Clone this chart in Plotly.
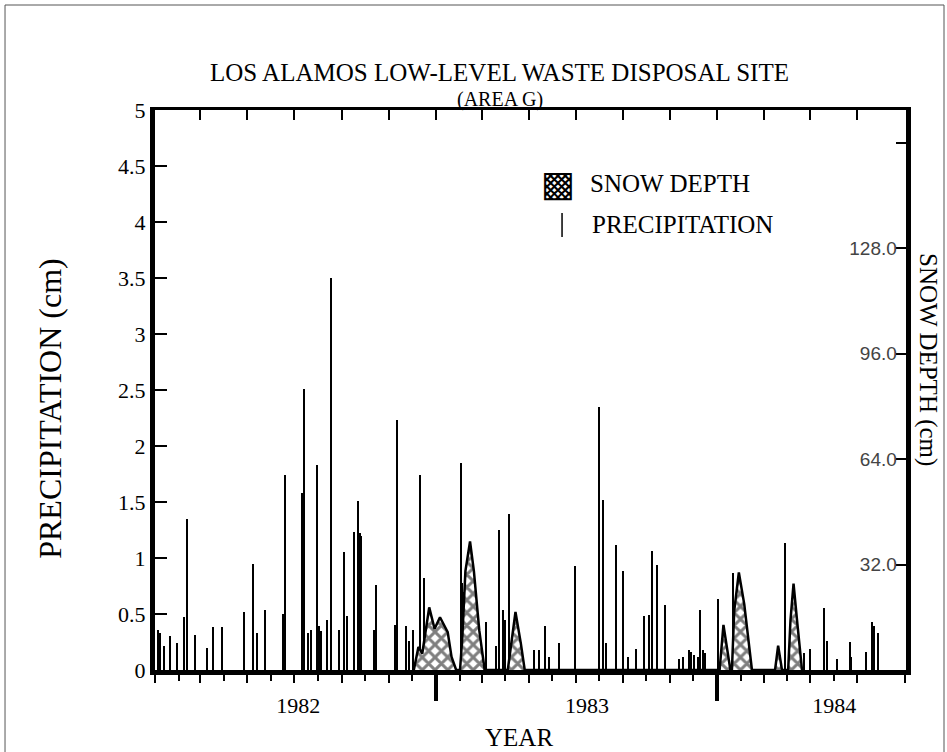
import plotly.graph_objects as go

# ---------------- data ----------------
precip_dates = [
    "1982-01-05", "1982-01-07", "1982-01-13", "1982-01-20", "1982-01-30", "1982-02-08", "1982-02-12",
    "1982-02-22", "1982-03-10", "1982-03-18", "1982-03-29", "1982-04-27", "1982-05-08", "1982-05-13",
    "1982-05-24", "1982-06-16", "1982-06-19", "1982-07-11", "1982-07-14", "1982-07-19", "1982-07-22",
    "1982-07-31", "1982-08-02", "1982-08-05", "1982-08-12", "1982-08-17", "1982-08-18", "1982-08-28",
    "1982-09-03", "1982-09-08", "1982-09-16", "1982-09-21", "1982-09-24", "1982-09-26", "1982-10-12",
    "1982-10-15", "1982-11-09", "1982-11-11", "1982-11-23", "1982-11-27", "1982-12-02", "1982-12-11",
    "1982-12-16",
    "1983-02-02", "1983-02-04", "1983-02-06", "1983-03-07", "1983-03-20", "1983-03-24", "1983-03-29",
    "1983-04-01", "1983-04-06", "1983-04-09", "1983-05-08", "1983-05-15", "1983-05-22", "1983-05-27",
    "1983-06-09", "1983-07-01", "1983-08-01", "1983-08-06", "1983-08-10", "1983-08-23", "1983-09-01",
    "1983-09-07", "1983-09-17", "1983-09-28", "1983-10-05", "1983-10-08", "1983-10-15", "1983-10-25",
    "1983-11-13", "1983-11-18", "1983-11-26", "1983-11-28", "1983-12-02", "1983-12-07", "1983-12-10",
    "1983-12-13", "1983-12-16",
    "1984-01-02", "1984-01-21", "1984-03-29", "1984-04-23", "1984-04-30", "1984-05-19", "1984-05-22",
    "1984-06-04", "1984-06-21", "1984-06-23", "1984-07-12", "1984-07-20", "1984-07-23", "1984-07-28",
]
precip_cm = [
    0.36, 0.33, 0.21, 0.30, 0.24, 0.47, 1.35, 0.31, 0.20, 0.38, 0.38, 0.52, 0.95, 0.33,
    0.54, 0.50, 1.74, 1.58, 2.51, 0.33, 0.36, 1.83, 0.39, 0.35, 0.45, 0.31, 3.50, 0.36,
    1.05, 0.48, 1.23, 1.51, 1.22, 1.20, 0.36, 0.76, 0.40, 2.23, 0.39, 0.26, 0.36, 1.74,
    0.82,
    1.85, 0.78, 0.70, 0.43, 0.21, 1.25, 0.54, 0.45, 1.39, 0.27, 0.18, 0.18, 0.39, 0.12,
    0.24, 0.93, 2.35, 1.52, 0.24, 1.12, 0.88, 0.12, 0.19, 0.48, 0.49, 1.06, 0.94, 0.58,
    0.10, 0.12, 0.18, 0.16, 0.13, 0.12, 0.54, 0.18, 0.15,
    0.63, 0.87, 1.13, 0.15, 0.19, 0.55, 0.26, 0.10, 0.25, 0.12, 0.16, 0.43, 0.39, 0.33,
]

snow_dates = [
    "1982-12-03", "1982-12-09", "1982-12-14", "1982-12-23", "1982-12-30", "1983-01-06", "1983-01-16",
    "1983-01-21", "1983-01-27",
    "1983-02-01", "1983-02-04", "1983-02-08", "1983-02-14", "1983-02-19", "1983-02-26", "1983-03-05",
    "1983-04-04", "1983-04-10", "1983-04-14", "1983-04-21", "1983-04-26",
    "1984-01-04", "1984-01-09", "1984-01-18",
    "1984-01-20", "1984-01-23", "1984-01-29", "1984-02-05", "1984-02-10", "1984-02-15",
    "1984-03-16", "1984-03-20", "1984-03-25",
    "1984-04-02", "1984-04-05", "1984-04-09", "1984-04-14", "1984-04-20",
]
snow_depth_cm = [
    0, 7, 5, 19, 12.5, 16, 11.5, 4, 0,
    0, 10, 30, 39, 30, 12, 0,
    0, 10, 17.6, 8, 0,
    0, 13.7, 0,
    0, 18, 29.6, 20, 10, 0,
    0, 7.4, 0,
    0, 15, 26.2, 14, 0,
]

x_range = ["1982-01-01", "1984-09-02"]
year_boundaries = ["1983-01-01", "1984-01-01"]
year_labels = ["1982", "1983", "1984"]
year_label_dates = ["1982-07-06", "1983-07-16", "1984-06-01"]
snow_tickvals = [32, 64, 96, 128, 160]
snow_ticktext = ["32.0", "64.0", "96.0", "128.0", ""]

SERIF = "Liberation Serif"
DAY_MS = 86400000

fig = go.Figure()

fig.add_trace(go.Bar(
    x=precip_dates, y=precip_cm, width=1.5 * DAY_MS,
    marker=dict(color="black", line=dict(width=0)),
    showlegend=False, xaxis="x", yaxis="y",
))

fig.add_trace(go.Scatter(
    x=snow_dates, y=snow_depth_cm, mode="lines",
    line=dict(color="black", width=2.5),
    fill="tozeroy",
    fillpattern=dict(shape="x", fgcolor="black", bgcolor="white", size=9, solidity=0.55),
    fillcolor="white",
    showlegend=False, xaxis="x", yaxis="y2",
))

# invisible helpers so overlay axes are drawn
for ax in ["x2", "x3", "x4"]:
    fig.add_trace(go.Scatter(x=[x_range[0]], y=[0], mode="markers", marker=dict(opacity=0),
                             hoverinfo="skip", showlegend=False, xaxis=ax, yaxis="y"))

fig.update_layout(
    width=947, height=752,
    margin=dict(l=155, r=41, t=110, b=82),
    paper_bgcolor="white", plot_bgcolor="white",
    bargap=0, showlegend=False,
    font=dict(family=SERIF, color="black"),
    xaxis=dict(
        type="date", range=x_range, showgrid=False, zeroline=False,
        showline=True, linewidth=5, linecolor="black",
        tickmode="array", tickvals=year_label_dates, ticktext=year_labels,
        ticks="", ticklen=0,
        tickfont=dict(family=SERIF, size=22), ticklabelstandoff=12,
        minor=dict(ticks="outside", tickmode="linear", dtick="M1", tick0="1982-01-01",
                   ticklen=6, tickwidth=1.5, tickcolor="black", showgrid=False),
    ),
    xaxis2=dict(
        type="date", range=x_range, overlaying="x", anchor="y", side="bottom",
        showgrid=False, zeroline=False, showline=False, showticklabels=False,
        tickmode="linear", dtick="M2", tick0="1982-01-01",
        ticks="outside", ticklen=12, tickwidth=1.8, tickcolor="black",
    ),
    xaxis3=dict(
        type="date", range=x_range, overlaying="x", anchor="y", side="bottom",
        showgrid=False, zeroline=False, showline=False, showticklabels=False,
        tickmode="array", tickvals=year_boundaries,
        ticks="outside", ticklen=30, tickwidth=4, tickcolor="black",
    ),
    xaxis4=dict(
        type="date", range=x_range, overlaying="x", anchor="y", side="top",
        showgrid=False, zeroline=False, showline=True, linewidth=3, linecolor="black",
        showticklabels=False,
        tickmode="linear", dtick="M2", tick0="1982-01-01",
        ticks="inside", ticklen=10, tickwidth=1.5, tickcolor="black",
    ),
    yaxis=dict(
        range=[0, 5], dtick=0.5, tick0=0, showgrid=False, zeroline=False,
        showline=True, linewidth=5, linecolor="black",
        ticks="inside", ticklen=12, tickwidth=1.5, tickcolor="black",
        tickfont=dict(family=SERIF, size=22),
    ),
    yaxis2=dict(
        range=[0, 170], overlaying="y", side="right", anchor="x",
        showgrid=False, zeroline=False,
        showline=True, linewidth=5, linecolor="black",
        tickmode="array", tickvals=snow_tickvals, ticktext=snow_ticktext,
        ticks="inside", ticklen=10, tickwidth=1.5, tickcolor="black",
        ticklabelposition="inside",
        tickfont=dict(family="Liberation Sans", size=19),
    ),
)

annotations = [
    dict(text="LOS ALAMOS LOW-LEVEL WASTE DISPOSAL SITE", x=0.459, y=1.0661, xref="paper", yref="paper",
         showarrow=False, font=dict(family=SERIF, size=25), xanchor="center", yanchor="middle"),
    dict(text="(AREA G)", x=0.459, y=1.0179, xref="paper", yref="paper",
         showarrow=False, font=dict(family=SERIF, size=20), xanchor="center", yanchor="middle"),
    dict(text="PRECIPITATION (cm)", x=-0.14, y=0.468, xref="paper", yref="paper", textangle=-90,
         showarrow=False, font=dict(family=SERIF, size=32), xanchor="center", yanchor="middle"),
    dict(text="SNOW DEPTH (cm)", x=1.029, y=0.554, xref="paper", yref="paper", textangle=90,
         showarrow=False, font=dict(family=SERIF, size=25), xanchor="center", yanchor="middle"),
    dict(text="YEAR", x=0.4847, y=-0.121, xref="paper", yref="paper",
         showarrow=False, font=dict(family=SERIF, size=25), xanchor="center", yanchor="middle"),
    dict(text="▩", x=0.5366, y=0.868, xref="paper", yref="paper",
         showarrow=False, font=dict(family="DejaVu Sans", size=36), xanchor="center", yanchor="middle"),
    dict(text="SNOW DEPTH", x=0.5766, y=0.868, xref="paper", yref="paper",
         showarrow=False, font=dict(family=SERIF, size=25), xanchor="left", yanchor="middle"),
    dict(text="PRECIPITATION", x=0.5792, y=0.795, xref="paper", yref="paper",
         showarrow=False, font=dict(family=SERIF, size=25), xanchor="left", yanchor="middle"),
]
fig.update_layout(annotations=annotations)

fig.update_layout(shapes=[
    dict(type="line", xref="paper", yref="paper", x0=0.542, x1=0.542, y0=0.773, y1=0.816,
         line=dict(color="black", width=1.5)),
    dict(type="rect", xref="paper", yref="paper", x0=-0.1997, x1=1.0506, y0=-0.2, y1=1.1875,
         line=dict(color="#555555", width=1)),
])

fig.write_html(
    "out.html",
    config={"displayModeBar": False},
    post_script="document.body.style.margin='0';document.body.style.overflow='hidden';",
)
